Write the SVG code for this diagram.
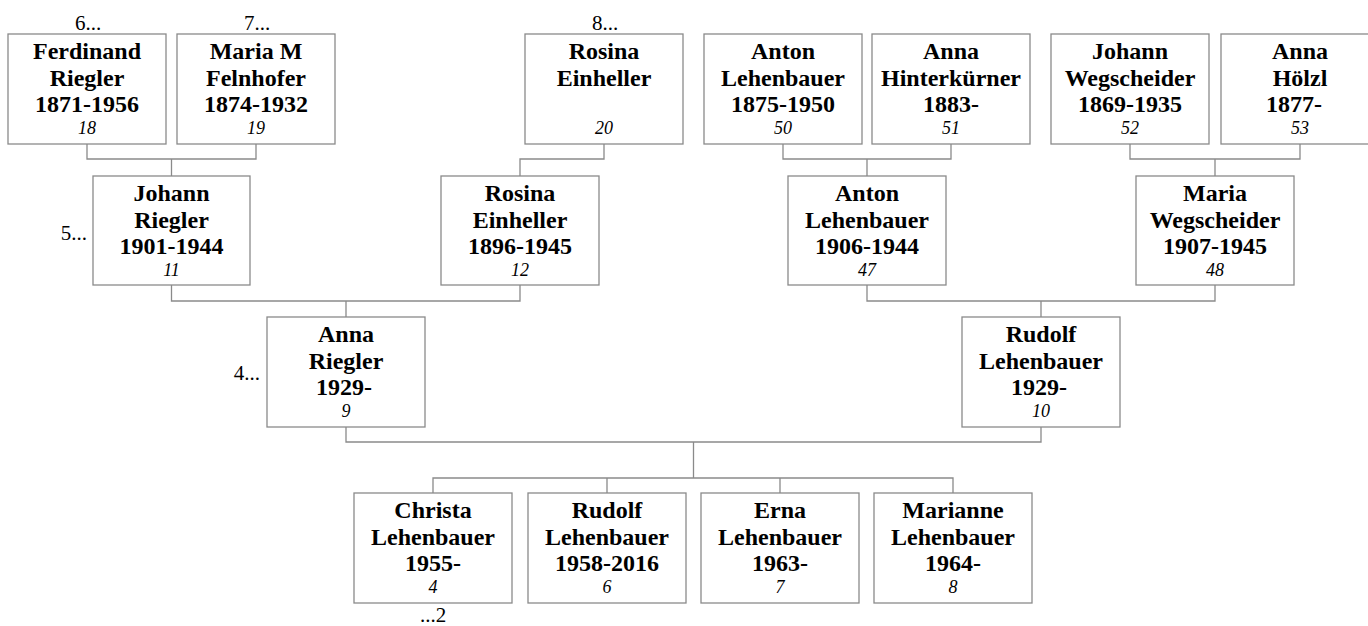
<svg xmlns="http://www.w3.org/2000/svg" width="1368" height="626" viewBox="0 0 1368 626">
<style>
.box{fill:#fff;stroke:#8a8a8a;stroke-width:1.3}
.n{font-family:"Liberation Serif","Times New Roman",serif;font-weight:bold;font-size:24px;text-anchor:middle;fill:#000}
.i{font-family:"Liberation Serif","Times New Roman",serif;font-style:italic;font-size:18px;text-anchor:middle;fill:#000}
.m{font-family:"Liberation Serif","Times New Roman",serif;font-size:21px;fill:#000}
.c{fill:none;stroke:#8a8a8a;stroke-width:1.3}
</style>
<rect width="1368" height="626" fill="#fff"/>
<g id="connectors">
<path class="c" d="M87 144V159H256V144M171.5 159V176"/>
<path class="c" d="M604 144V159H520V176"/>
<path class="c" d="M783 144V159H951V144M867 159V176"/>
<path class="c" d="M1130 144V159H1300V144M1215 159V176"/>
<path class="c" d="M171.5 285V301H520V285M346 301V317"/>
<path class="c" d="M867 285V301H1215V285M1041 301V317"/>
<path class="c" d="M346 427V442H1041V427M693.5 442V478"/>
<path class="c" d="M433 493V478H953V493M607 478V493M780 478V493"/>
</g>
<g id="p18"><rect class="box" x="8" y="34" width="158" height="110"/><text class="n" x="87" y="59">Ferdinand</text><text class="n" x="87" y="85.5">Riegler</text><text class="n" x="87" y="112">1871-1956</text><text class="i" x="87" y="133.5">18</text></g>
<g id="p19"><rect class="box" x="177" y="34" width="158" height="110"/><text class="n" x="256" y="59">Maria M</text><text class="n" x="256" y="85.5">Felnhofer</text><text class="n" x="256" y="112">1874-1932</text><text class="i" x="256" y="133.5">19</text></g>
<g id="p20"><rect class="box" x="525" y="34" width="158" height="110"/><text class="n" x="604" y="59">Rosina</text><text class="n" x="604" y="85.5">Einheller</text><text class="i" x="604" y="133.5">20</text></g>
<g id="p50"><rect class="box" x="704" y="34" width="158" height="110"/><text class="n" x="783" y="59">Anton</text><text class="n" x="783" y="85.5">Lehenbauer</text><text class="n" x="783" y="112">1875-1950</text><text class="i" x="783" y="133.5">50</text></g>
<g id="p51"><rect class="box" x="872" y="34" width="158" height="110"/><text class="n" x="951" y="59">Anna</text><text class="n" x="951" y="85.5">Hinterkürner</text><text class="n" x="951" y="112">1883-</text><text class="i" x="951" y="133.5">51</text></g>
<g id="p52"><rect class="box" x="1051" y="34" width="158" height="110"/><text class="n" x="1130" y="59">Johann</text><text class="n" x="1130" y="85.5">Wegscheider</text><text class="n" x="1130" y="112">1869-1935</text><text class="i" x="1130" y="133.5">52</text></g>
<g id="p53"><rect class="box" x="1221" y="34" width="158" height="110"/><text class="n" x="1300" y="59">Anna</text><text class="n" x="1300" y="85.5">Hölzl</text><text class="n" x="1294" y="112">1877-</text><text class="i" x="1300" y="133.5">53</text></g>
<g id="p11"><rect class="box" x="93" y="176" width="157" height="109"/><text class="n" x="171.5" y="201">Johann</text><text class="n" x="171.5" y="227.5">Riegler</text><text class="n" x="171.5" y="254">1901-1944</text><text class="i" x="171.5" y="275.5">11</text></g>
<g id="p12"><rect class="box" x="441" y="176" width="158" height="109"/><text class="n" x="520" y="201">Rosina</text><text class="n" x="520" y="227.5">Einheller</text><text class="n" x="520" y="254">1896-1945</text><text class="i" x="520" y="275.5">12</text></g>
<g id="p47"><rect class="box" x="788" y="176" width="158" height="109"/><text class="n" x="867" y="201">Anton</text><text class="n" x="867" y="227.5">Lehenbauer</text><text class="n" x="867" y="254">1906-1944</text><text class="i" x="867" y="275.5">47</text></g>
<g id="p48"><rect class="box" x="1136" y="176" width="158" height="109"/><text class="n" x="1215" y="201">Maria</text><text class="n" x="1215" y="227.5">Wegscheider</text><text class="n" x="1215" y="254">1907-1945</text><text class="i" x="1215" y="275.5">48</text></g>
<g id="p9"><rect class="box" x="267" y="317" width="158" height="110"/><text class="n" x="346" y="342">Anna</text><text class="n" x="346" y="368.5">Riegler</text><text class="n" x="344" y="395">1929-</text><text class="i" x="346" y="416.5">9</text></g>
<g id="p10"><rect class="box" x="962" y="317" width="158" height="110"/><text class="n" x="1041" y="342">Rudolf</text><text class="n" x="1041" y="368.5">Lehenbauer</text><text class="n" x="1039" y="395">1929-</text><text class="i" x="1041" y="416.5">10</text></g>
<g id="p4"><rect class="box" x="354" y="493" width="158" height="110"/><text class="n" x="433" y="518">Christa</text><text class="n" x="433" y="544.5">Lehenbauer</text><text class="n" x="433" y="571">1955-</text><text class="i" x="433" y="592.5">4</text></g>
<g id="p6"><rect class="box" x="528" y="493" width="158" height="110"/><text class="n" x="607" y="518">Rudolf</text><text class="n" x="607" y="544.5">Lehenbauer</text><text class="n" x="607" y="571">1958-2016</text><text class="i" x="607" y="592.5">6</text></g>
<g id="p7"><rect class="box" x="701" y="493" width="158" height="110"/><text class="n" x="780" y="518">Erna</text><text class="n" x="780" y="544.5">Lehenbauer</text><text class="n" x="780" y="571">1963-</text><text class="i" x="780" y="592.5">7</text></g>
<g id="p8"><rect class="box" x="874" y="493" width="158" height="110"/><text class="n" x="953" y="518">Marianne</text><text class="n" x="953" y="544.5">Lehenbauer</text><text class="n" x="953" y="571">1964-</text><text class="i" x="953" y="592.5">8</text></g>
<g id="marks">
<text class="m" x="88" y="30" text-anchor="middle">6...</text>
<text class="m" x="257" y="30" text-anchor="middle">7...</text>
<text class="m" x="605" y="30" text-anchor="middle">8...</text>
<text class="m" x="87" y="240" text-anchor="end">5...</text>
<text class="m" x="260" y="380" text-anchor="end">4...</text>
<text class="m" x="433" y="622" text-anchor="middle">...2</text>
</g>
</svg>
